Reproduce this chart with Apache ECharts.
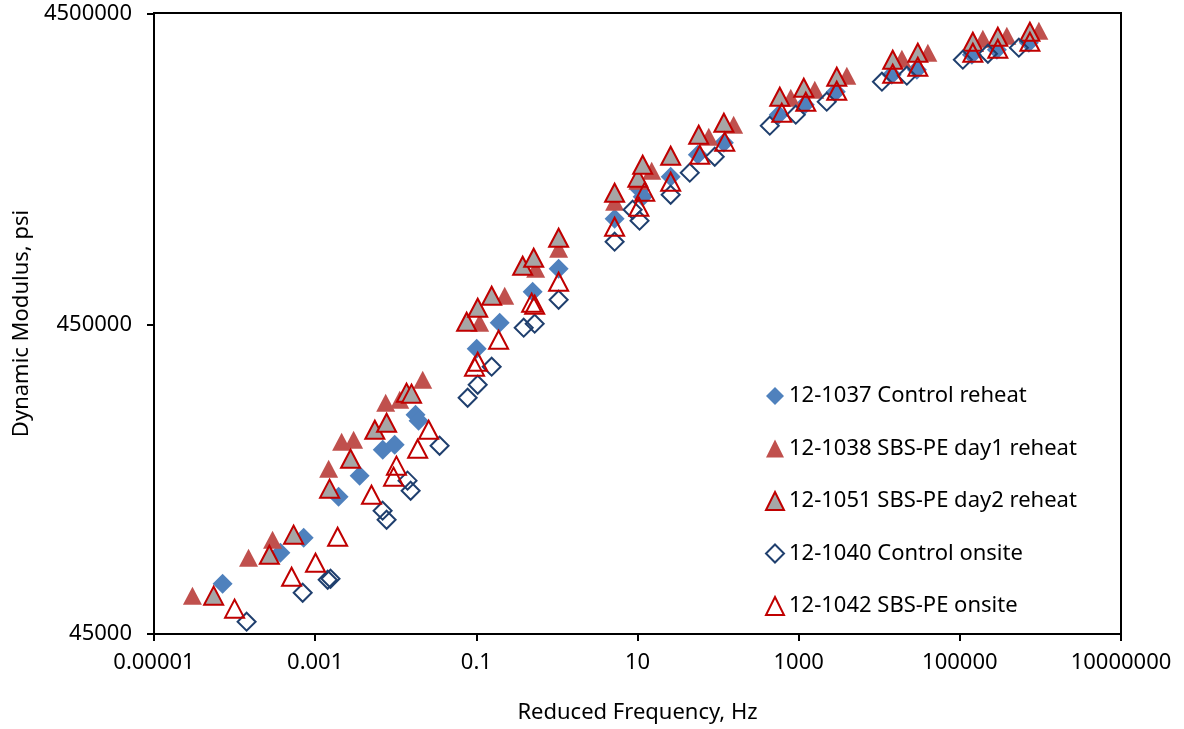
<!DOCTYPE html>
<html>
<head>
    <meta charset="UTF-8">
    <title>Dynamic Modulus master curves</title>
    <script src="https://cdn.jsdelivr.net/npm/echarts@6/dist/echarts.min.js"></script>
</head>
<body style="margin:0;background:#fff;">
    <div id="main" style="width:1184px;height:729px;"></div>
    <script type="text/javascript">
        // reduced frequency (Hz) and dynamic modulus (psi)
        var controlReheatFreq = [7.1e-5, 3.7e-4, 7.2e-4, 1.95e-3, 3.56e-3, 6.9e-3, 9.7e-3, 0.0176, 0.0192, 0.101, 0.195, 0.5, 1.05, 5.2, 10.7, 11.6, 25.8, 56, 118, 566, 1190, 2890, 14300, 29300, 141000, 288000, 719000];
        var controlReheatMod = [65300, 82200, 91900, 124600, 145500, 176500, 183200, 228800, 218900, 373300, 452700, 569600, 675500, 978800, 1214000, 1152000, 1337000, 1573000, 1720000, 2117000, 2280000, 2510000, 2848000, 2956000, 3303000, 3428000, 3610000];

        var day1ReheatFreq = [3.0e-5, 1.49e-4, 2.96e-4, 1.47e-3, 2.13e-3, 3.0e-3, 7.5e-3, 0.0112, 0.0216, 0.11, 0.225, 0.545, 1.05, 5.2, 10.1, 15, 76.6, 156, 798, 1585, 3960, 19100, 40100, 193000, 383000, 957000];
        var day1ReheatMod = [59800, 79200, 90500, 153300, 187300, 190100, 250100, 255700, 296700, 452700, 552900, 675500, 783800, 1110000, 1298000, 1398000, 1798000, 1966000, 2401000, 2548000, 2827000, 3206000, 3352000, 3719000, 3803000, 3946000];

        var day2ReheatFreq = [5.5e-5, 2.7e-4, 5.4e-4, 1.51e-3, 2.75e-3, 5.5e-3, 7.7e-3, 0.0136, 0.0157, 0.0758, 0.104, 0.155, 0.376, 0.515, 1.05, 5.2, 10.1, 11.6, 25.8, 57.5, 118, 583, 1157, 2970, 14700, 30100, 145000, 296000, 740000];
        var day2ReheatMod = [59800, 81000, 94000, 132200, 165100, 204700, 215600, 269400, 267400, 456000, 505900, 552900, 690600, 733000, 850200, 1187000, 1327000, 1461000, 1561000, 1825000, 1995000, 2419000, 2585000, 2805000, 3183000, 3352000, 3637000, 3775000, 3917000];

        var controlOnsiteFreq = [1.41e-4, 7.0e-4, 1.43e-3, 1.55e-3, 6.87e-3, 7.7e-3, 0.014, 0.0153, 0.035, 0.078, 0.104, 0.155, 0.387, 0.53, 1.05, 5.2, 8.7, 10.6, 25.8, 44.5, 90.9, 438, 921, 2230, 10800, 22000, 109000, 223000, 540000];
        var controlOnsiteMod = [49300, 61100, 67300, 67800, 112300, 105000, 140300, 130200, 181800, 259500, 285800, 326700, 436200, 449300, 536800, 825400, 1046000, 964500, 1169000, 1377000, 1550000, 1951000, 2117000, 2331000, 2704000, 2827000, 3183000, 3327000, 3479000];

        var sbsOnsiteFreq = [1.0e-4, 5.1e-4, 1.01e-3, 1.9e-3, 5.0e-3, 9.4e-3, 0.0102, 0.0187, 0.0256, 0.095, 0.104, 0.189, 0.486, 0.53, 1.05, 5.2, 10.4, 12.3, 25.8, 59.2, 121, 617, 1226, 2970, 14700, 30100, 145000, 296000, 740000];
        var sbsOnsiteMod = [54300, 68800, 76300, 92600, 126400, 144500, 156800, 177800, 204700, 326700, 339000, 399000, 525100, 517300, 613500, 922300, 1070000, 1196000, 1288000, 1573000, 1733000, 2149000, 2331000, 2529000, 2869000, 3022000, 3352000, 3453000, 3637000];

        var xTicks = [0.00001, 0.001, 0.1, 10, 1000, 100000, 10000000];
        var yTicks = [45000, 450000, 4500000];

        function pairs(xs, ys) {
            var out = [];
            for (var i = 0; i < xs.length; i++) {
                out.push([xs[i], ys[i]]);
            }
            return out;
        }

        var font = 'Noto Sans';
        var myChart = echarts.init(document.getElementById('main'));

        var option = {
            backgroundColor: '#fff',
            animation: false,
            grid: {
                left: 154, right: 63, top: 13, bottom: 95,
                show: true, borderColor: '#000', borderWidth: 2
            },
            legend: {
                orient: 'vertical',
                left: 760, top: 379,
                itemWidth: 18, itemHeight: 18,
                itemGap: 28.5,
                textStyle: { fontFamily: font, fontSize: 22, lineHeight: 24, color: '#000' }
            },
            xAxis: {
                type: 'log',
                logBase: 10,
                min: xTicks[0],
                max: xTicks[xTicks.length - 1],
                interval: 2,
                name: 'Reduced Frequency, Hz',
                nameLocation: 'middle',
                nameGap: 68,
                nameTextStyle: { fontFamily: font, fontSize: 22, color: '#000' },
                axisLine: { lineStyle: { color: '#000', width: 2 } },
                axisTick: { show: true, inside: false, length: 7, lineStyle: { color: '#000', width: 2 } },
                minorTick: { show: false },
                splitLine: { show: false },
                axisLabel: {
                    margin: 18,
                    fontFamily: font, fontSize: 22, color: '#000',
                    formatter: function (v) {
                        var e = Math.round(Math.log(v) / Math.LN10);
                        return e < 0 ? v.toFixed(-e) : String(Math.round(v));
                    }
                }
            },
            yAxis: {
                type: 'log',
                logBase: 10,
                min: yTicks[0],
                max: yTicks[yTicks.length - 1],
                interval: 1,
                name: 'Dynamic Modulus, psi',
                nameLocation: 'middle',
                nameGap: 120,
                nameTextStyle: { fontFamily: font, fontSize: 22, color: '#000' },
                axisLine: { lineStyle: { color: '#000', width: 2 } },
                axisTick: { show: true, inside: false, length: 7, lineStyle: { color: '#000', width: 2 } },
                minorTick: { show: false },
                splitLine: { show: false },
                axisLabel: {
                    margin: 22,
                    fontFamily: font, fontSize: 22, color: '#000',
                    formatter: function (v) {
                        return String(Number(v.toPrecision(2)));
                    }
                }
            },
            series: [
                {
                    name: '12-1037 Control reheat',
                    type: 'scatter',
                    symbol: 'diamond',
                    symbolSize: 20,
                    itemStyle: { color: '#4F81BD', opacity: 1 },
                    data: pairs(controlReheatFreq, controlReheatMod)
                },
                {
                    name: '12-1038 SBS-PE day1 reheat',
                    type: 'scatter',
                    symbol: 'triangle',
                    symbolSize: [19, 18],
                    itemStyle: { color: '#C0504D', opacity: 1 },
                    data: pairs(day1ReheatFreq, day1ReheatMod)
                },
                {
                    name: '12-1051 SBS-PE day2 reheat',
                    type: 'scatter',
                    symbol: 'triangle',
                    symbolSize: [19, 18],
                    itemStyle: { color: '#A6A6A6', borderColor: '#C00000', borderWidth: 2, opacity: 1 },
                    data: pairs(day2ReheatFreq, day2ReheatMod)
                },
                {
                    name: '12-1040 Control onsite',
                    type: 'scatter',
                    symbol: 'diamond',
                    symbolSize: 18,
                    itemStyle: { color: 'rgba(255,255,255,0)', borderColor: '#1F3F6E', borderWidth: 2, opacity: 1 },
                    data: pairs(controlOnsiteFreq, controlOnsiteMod)
                },
                {
                    name: '12-1042 SBS-PE onsite',
                    type: 'scatter',
                    symbol: 'triangle',
                    symbolSize: [19, 18],
                    itemStyle: { color: 'rgba(255,255,255,0)', borderColor: '#C00000', borderWidth: 2, opacity: 1 },
                    data: pairs(sbsOnsiteFreq, sbsOnsiteMod)
                }
            ]
        };

        myChart.setOption(option);
    </script>
</body>
</html>
